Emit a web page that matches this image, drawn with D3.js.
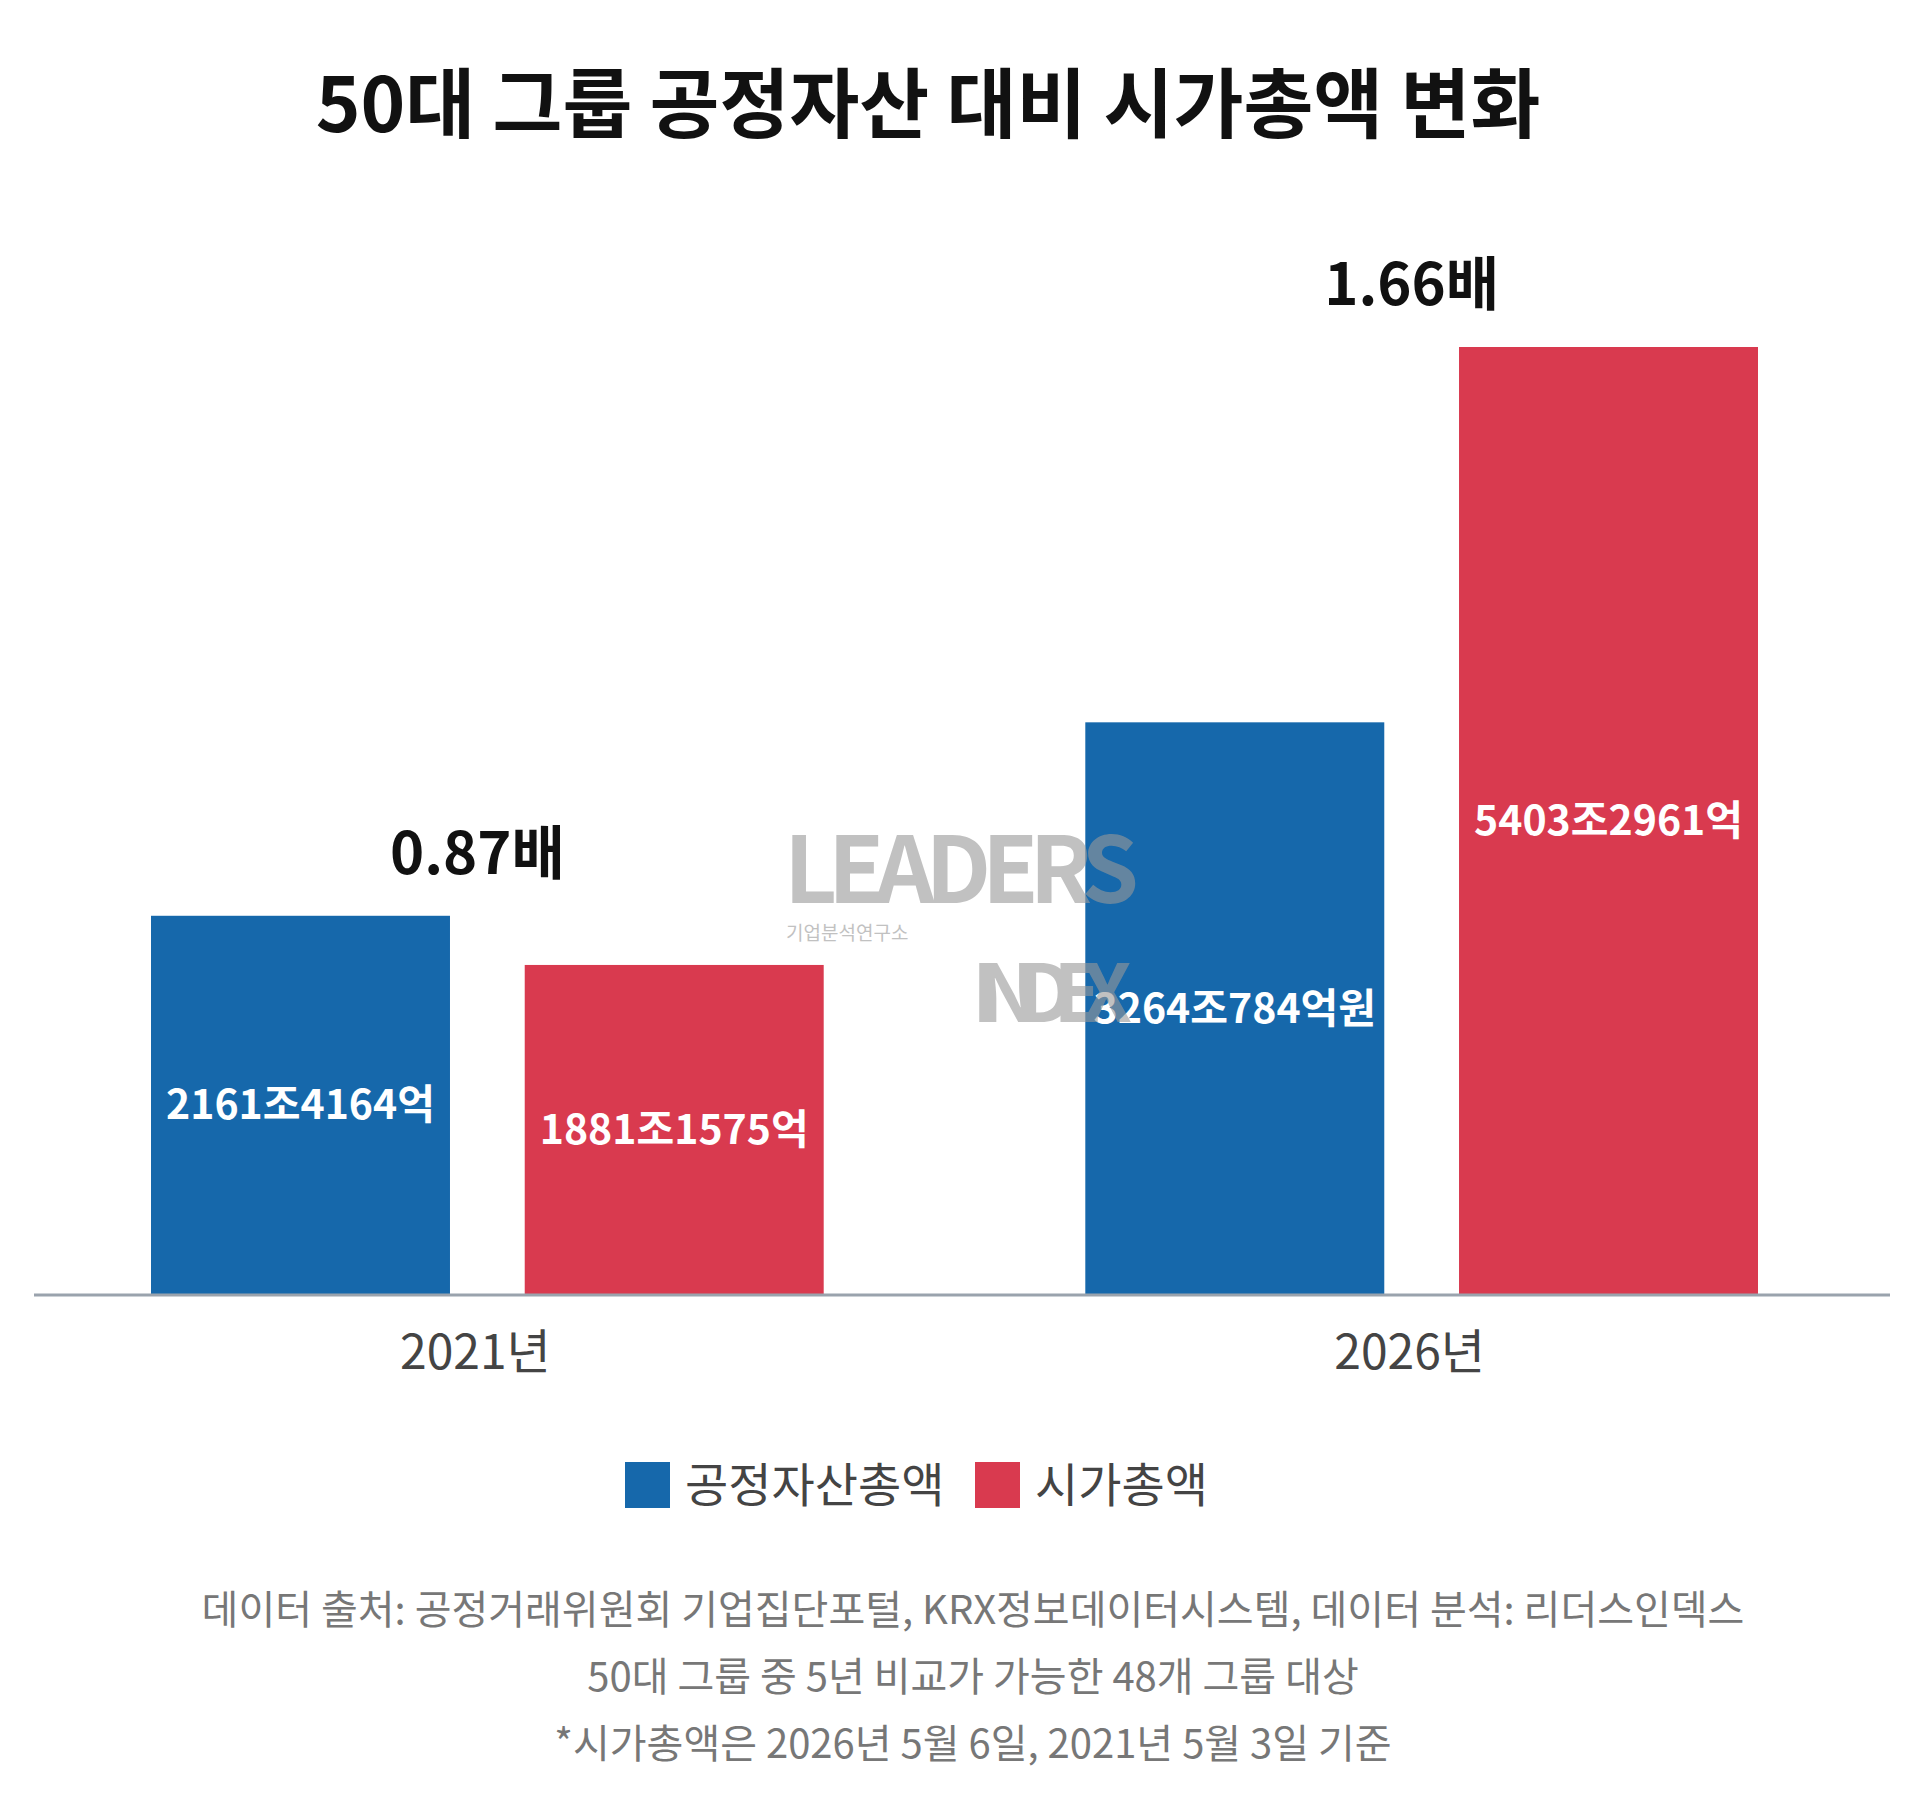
<!DOCTYPE html>
<html>
<head>
<meta charset="utf-8">
<script src="https://d3js.org/d3.v7.min.js"></script>
<style>
  body { margin: 0; background: #fff; }
  text { font-family: "Noto Sans CJK KR", "Noto Sans", sans-serif; }
</style>
</head>
<body>
<svg id="chart" width="1920" height="1812"></svg>
<script>
// data
const years = ["2021년", "2026년"];
const seriesNames = ["공정자산총액", "시가총액"];
const assets = [2161.4164, 3264.0784];
const marketCap = [1881.1575, 5403.2961];
const assetLabels = ["2161조4164억", "3264조784억원"];
const capLabels = ["1881조1575억", "5403조2961억"];
const ratioLabels = ["0.87배", "1.66배"];
const notes = [
  "데이터 출처: 공정거래위원회 기업집단포털, KRX정보데이터시스템, 데이터 분석: 리더스인덱스",
  "50대 그룹 중 5년 비교가 가능한 48개 그룹 대상",
  "*시가총액은 2026년 5월 6일, 2021년 5월 3일 기준"
];
const colors = ["#1668ab", "#d93a4f"];

const svg = d3.select("#chart");
const baseY = 1295;

const x0 = d3.scaleBand().domain(years).range([151, 1758]).paddingInner(0.28);
const x1 = d3.scaleBand().domain(seriesNames).range([0, x0.bandwidth()]).paddingInner(0.2);
const y = d3.scaleLinear().domain([0, 5403.3]).range([baseY, 347]);

svg.append("text").attr("x", 928).attr("y", 132).attr("text-anchor", "middle")
  .attr("font-size", 76).attr("font-weight", 700).attr("fill", "#111")
  .text("50대 그룹 공정자산 대비 시가총액 변화");

years.forEach((yr, i) => {
  const g = svg.append("g").attr("transform", `translate(${x0(yr)},0)`);
  const vals = [assets[i], marketCap[i]];
  const labs = [assetLabels[i], capLabels[i]];
  vals.forEach((v, j) => {
    const bx = x1(seriesNames[j]);
    g.append("rect").attr("x", bx).attr("y", y(v)).attr("width", x1.bandwidth())
      .attr("height", baseY - y(v)).attr("fill", colors[j]);
    g.append("text").attr("x", bx + x1.bandwidth() / 2).attr("y", (y(v) + baseY) / 2 + 14)
      .attr("text-anchor", "middle").attr("font-size", 41).attr("font-weight", 700)
      .attr("fill", "#fff").text(labs[j]);
  });
  g.append("text").attr("x", x0.bandwidth() / 2 - 10).attr("y", y(Math.max(...vals)) - 42)
    .attr("text-anchor", "middle").attr("font-size", 58).attr("font-weight", 700)
    .attr("fill", "#111").text(ratioLabels[i]);
});

// watermark (over bars, translucent)
const wm = svg.append("g").attr("fill", "#999").attr("opacity", 0.6);
wm.append("text").attr("x", 784).attr("y", 903).attr("font-size", 92).attr("font-weight", 700)
  .attr("textLength", 355).text("LEADERS");
wm.append("text").attr("x", 786).attr("y", 940).attr("font-size", 19).text("기업분석연구소");
wm.append("text").attr("x", 972).attr("y", 1022).attr("font-size", 80).attr("font-weight", 700)
  .attr("textLength", 160).text("INDEX");

const axis = svg.append("g").attr("transform", `translate(0,${baseY})`)
  .call(d3.axisBottom(x0).tickSize(0).tickPadding(40));
axis.selectAll(".tick").attr("transform", d => `translate(${x0(d) + x0.bandwidth() / 2 - 12},0)`);
axis.select(".domain").attr("d", "M34,0H1890").attr("stroke", "#9aa3ad").attr("stroke-width", 3);
axis.selectAll("text").attr("font-size", 48).attr("fill", "#444")
  .style("font-family", '"Noto Sans CJK KR", sans-serif');

// legend
const leg = svg.append("g");
const legX = [625, 975];
seriesNames.forEach((n, j) => {
  leg.append("rect").attr("x", legX[j]).attr("y", 1462).attr("width", 45).attr("height", 46).attr("fill", colors[j]);
  leg.append("text").attr("x", legX[j] + 60).attr("y", 1502).attr("font-size", 47)
    .attr("fill", "#444").text(n);
});

notes.forEach((t, i) => {
  svg.append("text").attr("x", 973).attr("y", 1624 + i * 67).attr("text-anchor", "middle")
    .attr("font-size", 40).attr("fill", "#777").text(t);
});
</script>
</body>
</html>
